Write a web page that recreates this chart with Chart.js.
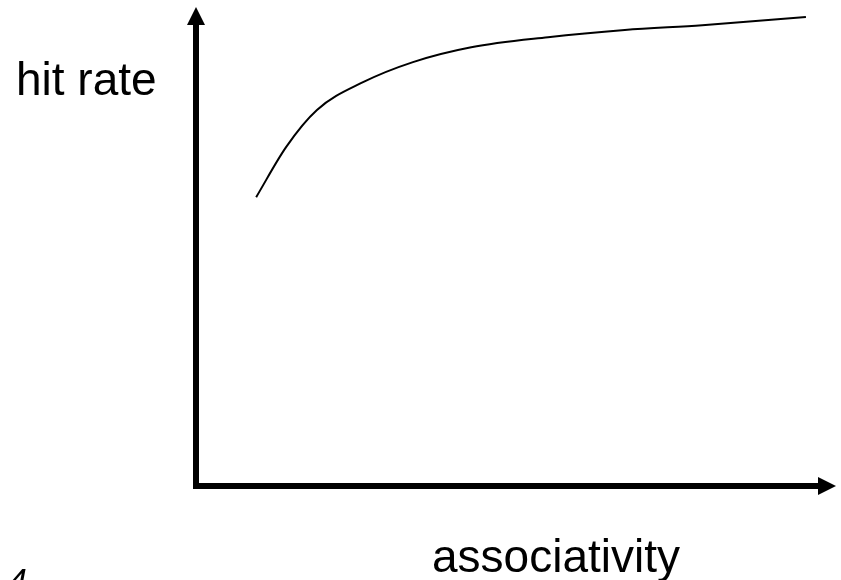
<!DOCTYPE html>
<html>
<head>
<meta charset="utf-8">
<script src="https://cdn.jsdelivr.net/npm/chart.js@4/dist/chart.umd.min.js"></script>
<style>
    body { margin: 0; background: #fff; }
    #wrap { width: 841px; height: 580px; position: relative; }
</style>
</head>
<body>
<div id="wrap"><canvas id="grafico"></canvas></div>
<script>
// Datos de la curva (unidades relativas, 0-100)
const asociatividad = [9.4, 14.1, 18.9, 26.1, 33.9, 43.0, 55.0, 67.0, 79.1, 95.3];
const tasaAciertos = [60.3, 70.8, 78.5, 84.3, 88.5, 91.6, 93.7, 95.2, 96.2, 97.9];

const tituloY = 'hit rate';
const tituloX = 'associativity';
const numeroPagina = '4';

const puntos = asociatividad.map((x, i) => ({ x: x, y: tasaAciertos[i] }));

// Ejes con flechas y textos
const ejesConFlechas = {
    id: 'ejesConFlechas',
    afterDraw(chart) {
        const ctx = chart.ctx;
        const area = chart.chartArea;
        const x0 = area.left;
        const y0 = area.bottom;
        ctx.save();
        ctx.fillStyle = '#000';
        ctx.strokeStyle = '#000';
        ctx.lineWidth = 6;

        // eje Y
        ctx.beginPath();
        ctx.moveTo(x0, y0 + 3);
        ctx.lineTo(x0, area.top + 16);
        ctx.stroke();
        ctx.beginPath();
        ctx.moveTo(x0, area.top);
        ctx.lineTo(x0 - 9, area.top + 18);
        ctx.lineTo(x0 + 9, area.top + 18);
        ctx.closePath();
        ctx.fill();

        // eje X
        ctx.beginPath();
        ctx.moveTo(x0 - 3, y0);
        ctx.lineTo(area.right - 16, y0);
        ctx.stroke();
        ctx.beginPath();
        ctx.moveTo(area.right, y0);
        ctx.lineTo(area.right - 18, y0 - 9);
        ctx.lineTo(area.right - 18, y0 + 9);
        ctx.closePath();
        ctx.fill();

        // textos
        ctx.font = '46px "Liberation Sans", Arial, sans-serif';
        ctx.textBaseline = 'alphabetic';
        ctx.textAlign = 'left';
        ctx.fillText(tituloY, 16, 95);
        ctx.fillText(tituloX, 432, 572);
        ctx.font = 'italic 34px "Liberation Sans", Arial, sans-serif';
        ctx.fillText(numeroPagina, 8, 592);
        ctx.restore();
    }
};

new Chart(document.getElementById('grafico').getContext('2d'), {
    type: 'line',
    data: {
        datasets: [{
            data: puntos,
            borderColor: '#000',
            borderWidth: 2,
            pointRadius: 0,
            fill: false,
            cubicInterpolationMode: 'monotone'
        }]
    },
    options: {
        responsive: true,
        maintainAspectRatio: false,
        animation: false,
        layout: { padding: { left: 196, right: 5, top: 7, bottom: 94 } },
        plugins: { legend: { display: false }, tooltip: { enabled: false } },
        scales: {
            x: { type: 'linear', min: 0, max: 100, display: false },
            y: { type: 'linear', min: 0, max: 100, display: false }
        }
    },
    plugins: [ejesConFlechas]
});
</script>
</body>
</html>
